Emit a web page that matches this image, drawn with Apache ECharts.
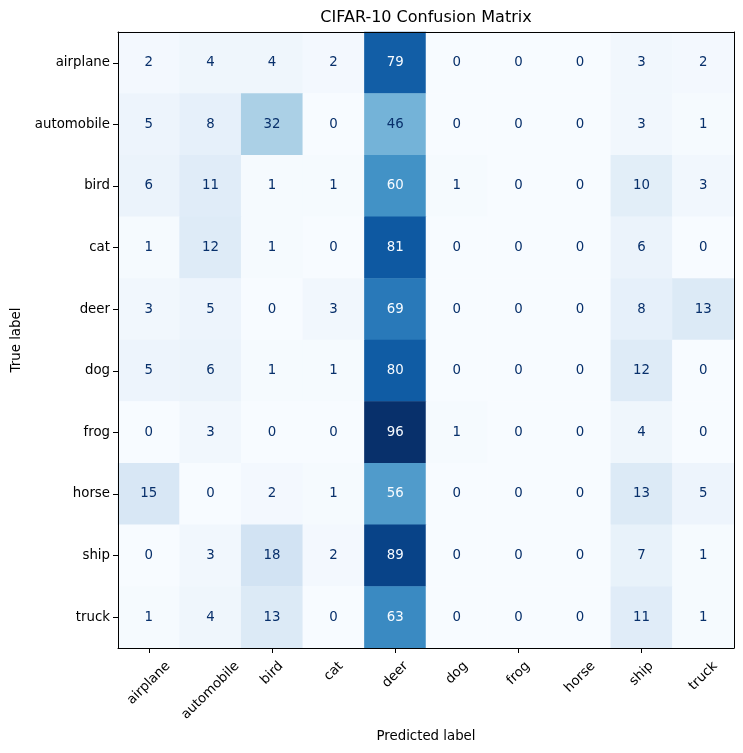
<!DOCTYPE html>
<html>
<head>
<meta charset="utf-8">
<script src="https://cdn.jsdelivr.net/npm/echarts@6/dist/echarts.min.js"></script>
<style>
html,body{margin:0;padding:0;background:#fff;}
#chart{width:743px;height:753px;}
</style>
</head>
<body>
<div id="chart"></div>
<script>
const classes = ['airplane','automobile','bird','cat','deer','dog','frog','horse','ship','truck'];
const titleText = 'CIFAR-10 Confusion Matrix';
const xLabel = 'Predicted label';
const yLabel = 'True label';
const matrix = [
  [2, 4, 4, 2, 79, 0, 0, 0, 3, 2],
  [5, 8, 32, 0, 46, 0, 0, 0, 3, 1],
  [6, 11, 1, 1, 60, 1, 0, 0, 10, 3],
  [1, 12, 1, 0, 81, 0, 0, 0, 6, 0],
  [3, 5, 0, 3, 69, 0, 0, 0, 8, 13],
  [5, 6, 1, 1, 80, 0, 0, 0, 12, 0],
  [0, 3, 0, 0, 96, 1, 0, 0, 4, 0],
  [15, 0, 2, 1, 56, 0, 0, 0, 13, 5],
  [0, 3, 18, 2, 89, 0, 0, 0, 7, 1],
  [1, 4, 13, 0, 63, 0, 0, 0, 11, 1]
];
const blues = ['#f7fbff','#deebf7','#c6dbef','#9ecae1','#6baed6','#4292c6','#2171b5','#08519c','#08306b'];

let vmax = 0, vmin = Infinity;
matrix.forEach(r => r.forEach(v => { vmax = Math.max(vmax, v); vmin = Math.min(vmin, v); }));
const thresh = (vmax + vmin) / 2;
const data = [];
matrix.forEach((row, i) => row.forEach((v, j) => {
  data.push({ value: [j, i, v], label: { color: v < thresh ? blues[8] : blues[0] } });
}));

const font = 'DejaVu Sans';
const fs = 13.33;
const mctx = document.createElement('canvas').getContext('2d');
mctx.font = fs + 'px "' + font + '"';
const textH = fs * 1.164;

const chart = echarts.init(document.getElementById('chart'), null, { renderer: 'canvas' });
chart.setOption({
  backgroundColor: '#ffffff',
  animation: false,
  grid: { left: 118, top: 32, width: 616, height: 616, show: false, outerBoundsMode: 'none', containLabel: false },
  visualMap: { show: false, min: 0, max: vmax, dimension: 2, seriesIndex: 0, inRange: { color: blues } },
  xAxis: [{
    type: 'category', data: classes, position: 'bottom', z: 10,
    name: xLabel, nameLocation: 'middle', nameGap: 82,
    nameTextStyle: { fontFamily: font, fontSize: fs, color: '#000' },
    axisLine: { show: true, lineStyle: { color: '#000', width: 1 } },
    axisTick: { show: true, alignWithLabel: true, length: 5, lineStyle: { color: '#000' } },
    axisLabel: { show: false },
    splitLine: { show: false }
  }, {
    type: 'category', data: classes, position: 'top', z: 10,
    name: titleText, nameLocation: 'middle', nameGap: 6,
    nameTextStyle: { fontFamily: font, fontSize: 16, color: '#000' },
    axisLine: { show: true, lineStyle: { color: '#000', width: 1 } },
    axisTick: { show: false }, axisLabel: { show: false }, splitLine: { show: false }
  }],
  yAxis: [{
    type: 'category', data: classes, inverse: true, position: 'left', z: 10,
    name: yLabel, nameLocation: 'middle', nameGap: 95, nameRotate: 90,
    nameTextStyle: { fontFamily: font, fontSize: fs, color: '#000' },
    axisLine: { show: true, lineStyle: { color: '#000', width: 1 } },
    axisTick: { show: true, alignWithLabel: true, length: 5, lineStyle: { color: '#000' } },
    axisLabel: { fontFamily: font, fontSize: fs, color: '#000', margin: 8 },
    splitLine: { show: false }
  }, {
    type: 'category', data: classes, inverse: true, position: 'right', z: 10,
    axisLine: { show: true, lineStyle: { color: '#000', width: 1 } },
    axisTick: { show: false }, axisLabel: { show: false }, splitLine: { show: false }
  }],
  series: [{
    type: 'heatmap', xAxisIndex: 0, yAxisIndex: 0, z: 1,
    data: data,
    label: { show: true, fontFamily: font, fontSize: fs, formatter: p => String(p.value[2]) },
    emphasis: { disabled: true }
  }, {
    type: 'custom', xAxisIndex: 0, yAxisIndex: 0, silent: true, z: 5,
    data: classes.map((c, i) => [i, 0]),
    renderItem: function (params, api) {
      const idx = api.value(0);
      const name = classes[idx];
      const cs = params.coordSys;
      const bottom = cs.y + cs.height;
      const cx = api.coord([idx, 0])[0];
      const L = mctx.measureText(name).width;
      const bboxH = (L + textH) / Math.SQRT2;
      const cy = bottom + 10.5 + bboxH / 2;
      return {
        type: 'text',
        x: cx, y: cy,
        rotation: Math.PI / 4,
        style: { text: name, fontFamily: font, fontSize: fs, fill: '#000', align: 'center', verticalAlign: 'middle' }
      };
    }
  }]
});
</script>
</body>
</html>
